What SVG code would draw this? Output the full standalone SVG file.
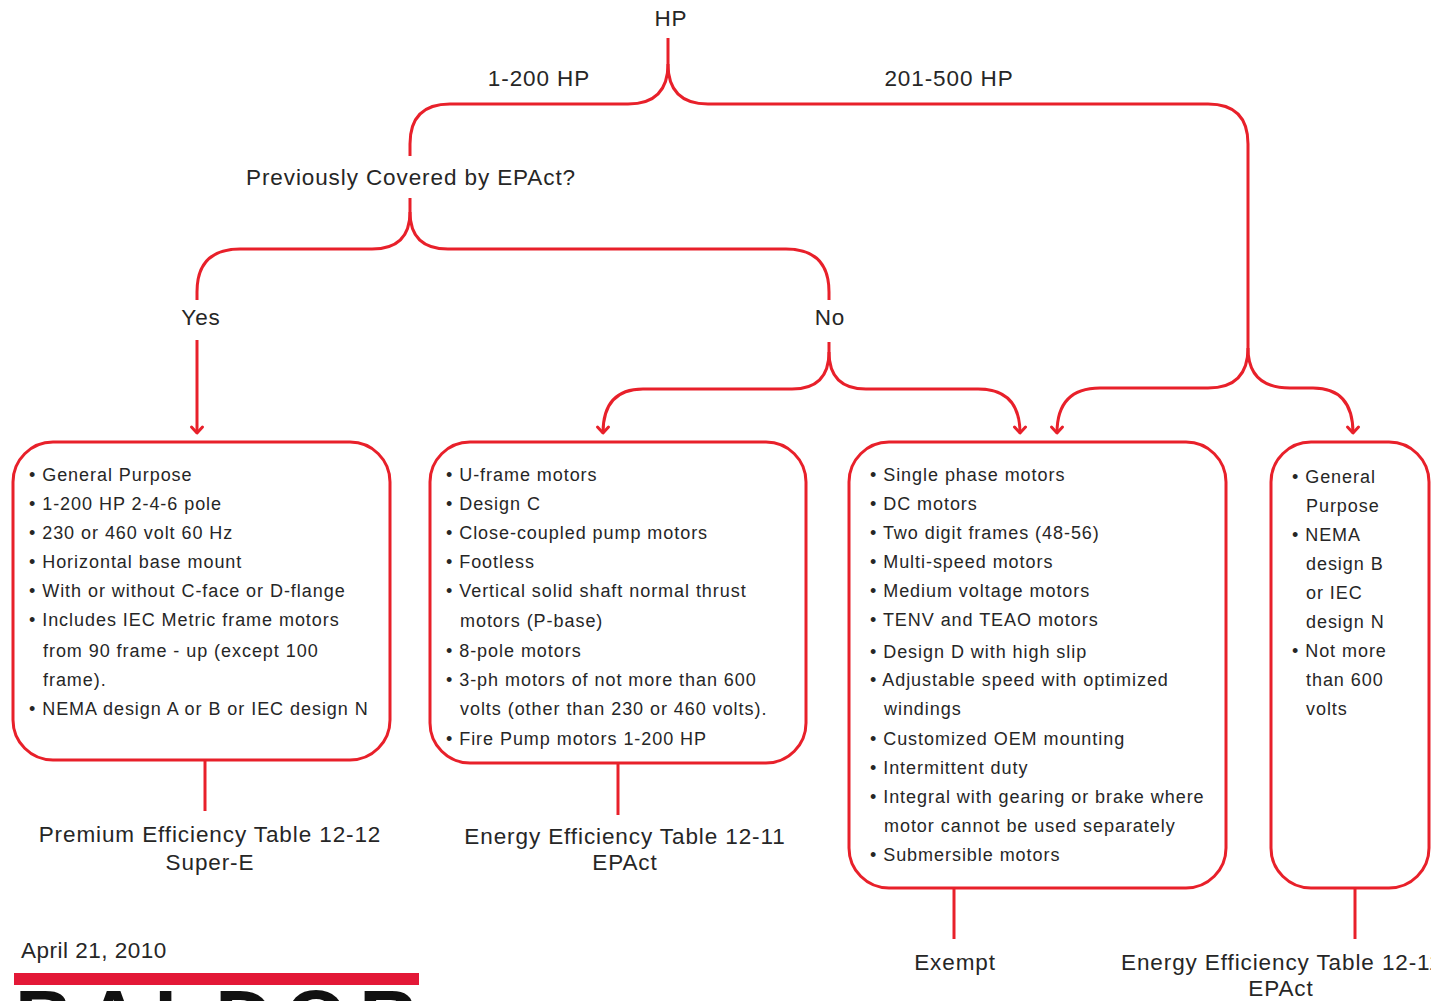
<svg xmlns="http://www.w3.org/2000/svg" width="1431" height="1001" viewBox="0 0 1431 1001">
<style>
text{font-family:"Liberation Sans",Arial,sans-serif;fill:#262626}
.lbl{font-size:22.5px;letter-spacing:0.9px}
.mid{text-anchor:middle}
.b{font-size:18px;letter-spacing:0.95px}
.box{fill:#fff;stroke:#e8202a;stroke-width:3}
.con{fill:none;stroke:#e8202a;stroke-width:3}
</style>
<defs>
<marker id="arr" markerUnits="userSpaceOnUse" markerWidth="16" markerHeight="16" viewBox="-8 -8 16 16" refX="0" refY="0" orient="auto" overflow="visible">
<path d="M-6,-5.5 L0,0 L-6,5.5" fill="none" stroke="#e8202a" stroke-width="3" stroke-linejoin="round" stroke-linecap="round"/>
</marker>
</defs>
<rect width="1431" height="1001" fill="#fff"/>

<g id="connectors">
<path class="con" d="M668,38 V64 Q668,104 628,104 H450 Q410,104 410,144 V156"/>
<path class="con" d="M668,64 Q668,104 708,104 H1208 Q1248,104 1248,144 V348"/>
<path class="con" d="M1248,348 Q1248,388 1208,388 H1100 Q1057,388 1057,433" marker-end="url(#arr)"/>
<path class="con" d="M1248,348 Q1248,388 1290,388 H1313 Q1353,388 1353,433" marker-end="url(#arr)"/>
<path class="con" d="M410,198 V212 Q410,249 372,249 H240 Q197,249 197,292 V300"/>
<path class="con" d="M410,212 Q410,249 448,249 H786 Q829,249 829,292 V300"/>
<path class="con" d="M197,340 V433" marker-end="url(#arr)"/>
<path class="con" d="M829,342 V352 Q829,389 792,389 H643 Q603,389 603,433" marker-end="url(#arr)"/>
<path class="con" d="M829,352 Q829,389 866,389 H978 Q1020,389 1020,433" marker-end="url(#arr)"/>
<path class="con" d="M205,760 V811"/>
<path class="con" d="M618,763 V815"/>
<path class="con" d="M954,888 V939"/>
<path class="con" d="M1355,888 V939"/>
</g>

<g id="hp"><text class="lbl mid" x="671" y="26">HP</text></g>
<g id="lbl-1-200"><text class="lbl mid" x="539" y="86">1-200 HP</text></g>
<g id="lbl-201-500"><text class="lbl mid" x="949" y="86">201-500 HP</text></g>
<g id="question"><text class="lbl mid" x="411" y="185">Previously Covered by EPAct?</text></g>
<g id="yes"><text class="lbl mid" x="201" y="325">Yes</text></g>
<g id="no"><text class="lbl mid" x="830" y="325">No</text></g>

<g id="box-premium">
<rect class="box" x="13" y="442" width="377" height="318" rx="40"/>
<text class="b">
<tspan x="29" y="481">• General Purpose</tspan>
<tspan x="29" y="510">• 1-200 HP 2-4-6 pole</tspan>
<tspan x="29" y="539">• 230 or 460 volt 60 Hz</tspan>
<tspan x="29" y="568">• Horizontal base mount</tspan>
<tspan x="29" y="597">• With or without C-face or D-flange</tspan>
<tspan x="29" y="626">• Includes IEC Metric frame motors</tspan>
<tspan x="43" y="657">from 90 frame - up (except 100</tspan>
<tspan x="43" y="686">frame).</tspan>
<tspan x="29" y="715">• NEMA design A or B or IEC design N</tspan>
</text>
</g>

<g id="box-energy">
<rect class="box" x="430" y="442" width="376" height="321" rx="40"/>
<text class="b">
<tspan x="446" y="481">• U-frame motors</tspan>
<tspan x="446" y="510">• Design C</tspan>
<tspan x="446" y="539">• Close-coupled pump motors</tspan>
<tspan x="446" y="568">• Footless</tspan>
<tspan x="446" y="597">• Vertical solid shaft normal thrust</tspan>
<tspan x="460" y="627">motors (P-base)</tspan>
<tspan x="446" y="657">• 8-pole motors</tspan>
<tspan x="446" y="686">• 3-ph motors of not more than 600</tspan>
<tspan x="460" y="715">volts (other than 230 or 460 volts).</tspan>
<tspan x="446" y="745">• Fire Pump motors 1-200 HP</tspan>
</text>
</g>

<g id="box-exempt">
<rect class="box" x="849" y="442" width="377" height="446" rx="40"/>
<text class="b">
<tspan x="870" y="481">• Single phase motors</tspan>
<tspan x="870" y="510">• DC motors</tspan>
<tspan x="870" y="539">• Two digit frames (48-56)</tspan>
<tspan x="870" y="568">• Multi-speed motors</tspan>
<tspan x="870" y="597">• Medium voltage motors</tspan>
<tspan x="870" y="626">• TENV and TEAO motors</tspan>
<tspan x="870" y="658">• Design D with high slip</tspan>
<tspan x="870" y="686">• Adjustable speed with optimized</tspan>
<tspan x="884" y="715">windings</tspan>
<tspan x="870" y="745">• Customized OEM mounting</tspan>
<tspan x="870" y="774">• Intermittent duty</tspan>
<tspan x="870" y="803">• Integral with gearing or brake where</tspan>
<tspan x="884" y="832">motor cannot be used separately</tspan>
<tspan x="870" y="861">• Submersible motors</tspan>
</text>
</g>

<g id="box-large">
<rect class="box" x="1271" y="442" width="158" height="446" rx="40"/>
<text class="b">
<tspan x="1292" y="483">• General</tspan>
<tspan x="1306" y="512">Purpose</tspan>
<tspan x="1292" y="541">• NEMA</tspan>
<tspan x="1306" y="570">design B</tspan>
<tspan x="1306" y="599">or IEC</tspan>
<tspan x="1306" y="628">design N</tspan>
<tspan x="1292" y="657">• Not more</tspan>
<tspan x="1306" y="686">than 600</tspan>
<tspan x="1306" y="715">volts</tspan>
</text>
</g>

<g id="out-premium">
<text class="lbl mid" x="210" y="842">Premium Efficiency Table 12-12</text>
<text class="lbl mid" x="210" y="870">Super-E</text>
</g>
<g id="out-energy">
<text class="lbl mid" x="625" y="844">Energy Efficiency Table 12-11</text>
<text class="lbl mid" x="625" y="870">EPAct</text>
</g>
<g id="out-exempt">
<text class="lbl mid" x="955" y="970">Exempt</text>
</g>
<g id="out-energy2">
<text class="lbl" x="1121" y="970">Energy Efficiency Table 12-11</text>
<text class="lbl mid" x="1281" y="996">EPAct</text>
</g>

<g id="footer">
<text class="lbl" x="21" y="958" style="letter-spacing:0.5px">April 21, 2010</text>
<rect x="14" y="973" width="405" height="12" fill="#e31837"/>
<text x="15" y="1046" font-size="80" font-weight="bold" textLength="402" lengthAdjust="spacing" style="fill:#111">BALDOR</text>
</g>
</svg>
